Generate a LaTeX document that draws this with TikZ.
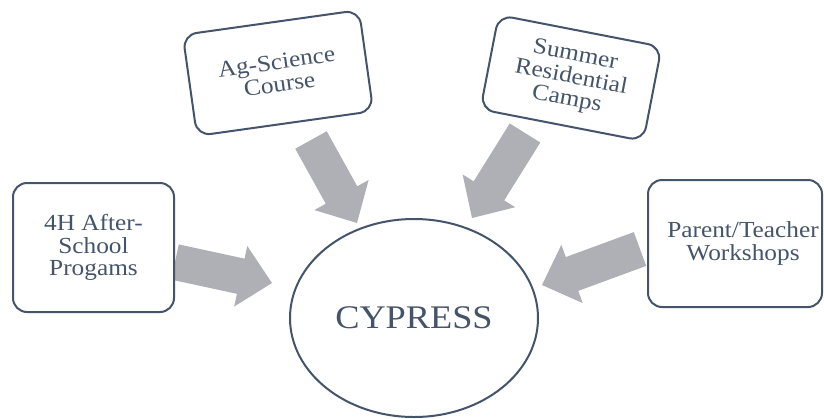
\documentclass[tikz,border=0pt]{standalone}
\usepackage{fontspec}
\setmainfont{Liberation Serif}[FakeStretch=1.1]
\usetikzlibrary{shapes.geometric,calc}
\definecolor{edge}{HTML}{44546A}
\definecolor{agray}{HTML}{AEB0B5}
\newcommand\blockarr[2]{%
  \coordinate (#2base) at ($(#2)!32pt!(#1)$);
  \fill[agray] ($(#1)!18pt!90:(#2)$) -- ($(#2base)!18pt!90:(#2)$) -- ($(#2base)!31pt!90:(#2)$) -- (#2) -- ($(#2base)!31pt!-90:(#2)$) -- ($(#2base)!18pt!-90:(#2)$) -- ($(#1)!18pt!-90:(#2)$) -- cycle;}
\begin{document}
\begin{tikzpicture}[x=1pt,y=-1pt,
  box/.style={draw=edge, line width=2pt, rounded corners=14pt, fill=white, text=edge,
    align=center, inner sep=0pt, font=\fontsize{23}{22.5}\selectfont},
  hub/.style={ellipse, draw=edge, line width=2pt, text=edge, inner sep=0pt,
    font=\fontsize{33}{36}\selectfont}]
\useasboundingbox[fill=white] (0,0) rectangle (824,418);
% arrow end points
\coordinate (s1) at (175,262); \coordinate (t1) at (272,283);
\coordinate (s2) at (311,140); \coordinate (t2) at (357,223);
\coordinate (s3) at (525,133); \coordinate (t3) at (472,218);
\coordinate (s4) at (640,249); \coordinate (t4) at (542,285);
\blockarr{s1}{t1}
\blockarr{s2}{t2}
\blockarr{s3}{t3}
\blockarr{s4}{t4}
% boxes
\node[box, minimum width=161pt, minimum height=129pt] (fourh) at (93.5,247.5) {4H After-\\School\\Progams};
\node[box, minimum width=178pt, minimum height=102pt, rotate=8] (ag) at (278,73) {Ag-Science\\Course};
\node[box, minimum width=166pt, minimum height=96pt, rotate=-11] (camps) at (571,78) {Summer\\Residential\\Camps};
\node[box, minimum width=174pt, minimum height=127pt] (pt) at (735,243.5) {\hspace*{16pt}Parent/Teacher\\\hspace*{16pt}Workshops};
% hub
\node[hub, minimum width=248pt, minimum height=198pt] (cy) at (414,318) {CYPRESS};
\end{tikzpicture}
\end{document}
